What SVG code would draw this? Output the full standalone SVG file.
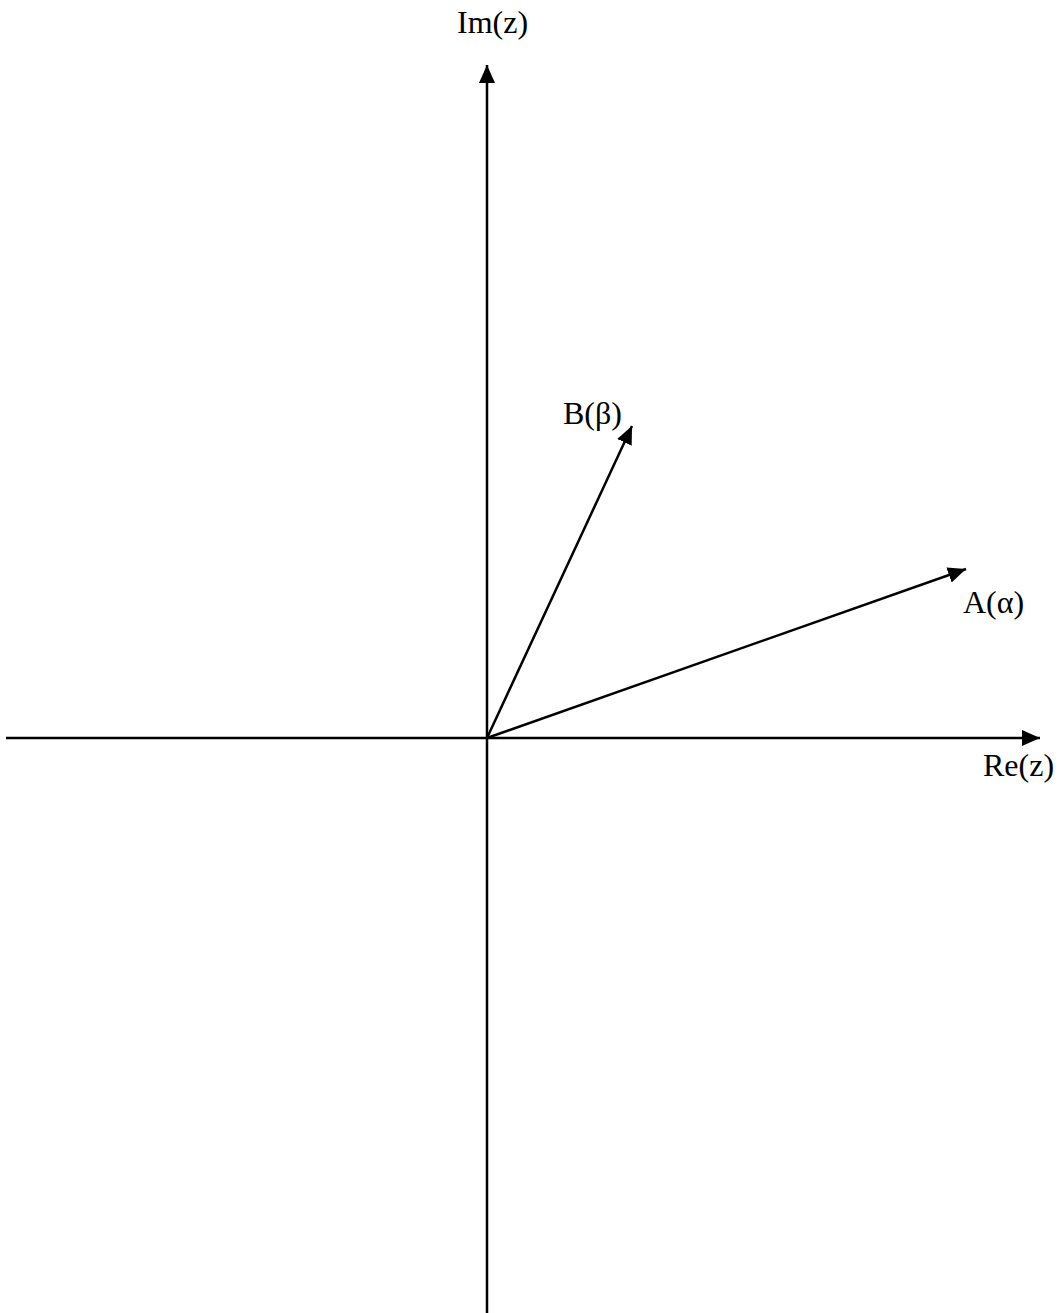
<svg xmlns="http://www.w3.org/2000/svg" width="1063" height="1313" viewBox="0 0 1063 1313">
<style>
.ax{stroke:#000;stroke-width:2.5;fill:none}
.lbl{font-family:"Liberation Serif","Times New Roman",serif;font-size:32px;fill:#000}
</style>
<defs>
<marker id="ah" markerUnits="userSpaceOnUse" markerWidth="20" markerHeight="18" refX="18" refY="8" orient="auto">
<path d="M0,0 L18,8 L0,16 Z" fill="#000"/>
</marker>
</defs>
<rect width="1063" height="1313" fill="#fff"/>
<g id="connectors">
<line class="ax" x1="487" y1="1313" x2="487" y2="65" marker-end="url(#ah)"/>
<line class="ax" x1="6" y1="738" x2="1040" y2="738" marker-end="url(#ah)"/>
<line class="ax" x1="487" y1="738" x2="632" y2="426" marker-end="url(#ah)"/>
<line class="ax" x1="487" y1="738" x2="966" y2="569" marker-end="url(#ah)"/>
</g>
<g id="im"><text class="lbl" x="457" y="33">Im(z)</text></g>
<g id="re"><text class="lbl" x="983" y="776">Re(z)</text></g>
<g id="b"><text class="lbl" x="563" y="424">B(β)</text></g>
<g id="a"><text class="lbl" x="963" y="613">A(α)</text></g>
</svg>
